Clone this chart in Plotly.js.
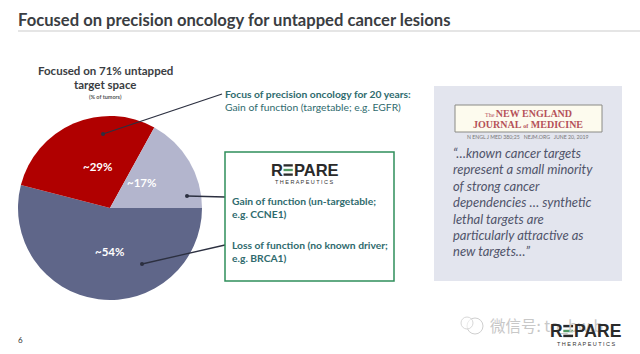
<!DOCTYPE html>
<html><head><meta charset="utf-8">
<script src="https://cdn.plot.ly/plotly-3.0.1.min.js"></script>
<style>html,body{margin:0;padding:0;background:#fff}#c{width:640px;height:354px}</style>
</head><body><div id="c"></div><script>
const categories=['Loss of function','Gain of function (un-targetable)','Gain of function (targetable)'];
const values=[54,29,17];
const valueLabels=['~54%','~29%','~17%'];
const sliceColors=['#5f6689','#b00000','#b3b5cd'];
const titleText='Focused on precision oncology for untapped cancer lesions';
const quoteLines=['“…known cancer targets','represent a small minority','of strong cancer','dependencies … synthetic','lethal targets are','particularly attractive as','new targets…”'];
const W=640,H=354;
const X=x=>x/W, Y=y=>1-y/H;
const LATO='Lato, Carlito, sans-serif';
const TEAL='#2f6b6e';
const ann=[];
function T(x,y,text,size,color,o={}){const a=o.a||'left';ann.push({xref:'paper',yref:'paper',x:X(a==='left'?x-2:x),y:Y(y),text,showarrow:false,xanchor:a,yanchor:'middle',align:a,font:{family:o.f||LATO,size,color}});}
const shapes=[];
function L(x0,y0,x1,y1,c,w,d){shapes.push({type:'line',xref:'paper',yref:'paper',x0:X(x0),y0:Y(y0),x1:X(x1),y1:Y(y1),line:{color:c,width:w,dash:d||'solid'}});}
function R(x0,y0,x1,y1,fill,lc,lw){shapes.push({type:'rect',xref:'paper',yref:'paper',x0:X(x0),y0:Y(y0),x1:X(x1),y1:Y(y1),fillcolor:fill,line:{color:lc||fill,width:lw||0}});}
function Dot(x,y,c){shapes.push({type:'circle',xref:'paper',yref:'paper',x0:X(x-2),y0:Y(y-2),x1:X(x+2),y1:Y(y+2),fillcolor:c,line:{width:0}});}
T(18,20,'<b>'+titleText+'</b>',16.6,'#3a3d42');
L(18,31,640,31,'#dcdcdc',1.5);
T(105,70,'<b>Focused on 71% untapped</b>',11.5,'#3a3d42',{a:'center'});
T(105,85,'<b>target space</b>',11.5,'#3a3d42',{a:'center'});
T(105,97,'<b>(% of tumors)</b>',5.5,'#555',{a:'center'});
T(225,94,'<b>Focus of precision oncology for 20 years:</b>',10.3,TEAL);
T(225,107,'Gain of function (targetable; e.g. EGFR)',10.3,TEAL);
L(103,134,222,94,'#2c3040',1.3);Dot(103,134,'#2c3040');
L(187,196,225,197,'#2c3040',1.3);Dot(187,196,'#2c3040');
L(142,264,225,245,'#2c3040',1.3);Dot(142,264,'#2c3040');
R(225,152,394,281,'rgba(0,0,0,0)','#2f8f5b',1.5);
function logo(x,y,s){
  T(x,y,'<b>R</b>',s,'#2a2a2a',{f:'Liberation Sans'});
  const bx=x+s*0.76,bw=s*0.56,h=s*0.70;
  [0,1,2].forEach(i=>{const yy=y-h/2+i*h*0.4;R(bx,yy,bx+bw,yy+h*0.2,i==1?'#4f9a62':'#2a2a2a');});
  T(bx+bw+s*0.08,y,'<b>PARE</b>',s,'#2a2a2a',{f:'Liberation Sans'});
}
logo(271,170,16.5);
T(304.5,182,'T H E R A P E U T I C S',5.5,'#333',{a:'center',f:'Liberation Sans'});
T(232,201,'<b>Gain of function (un-targetable;</b>',10.3,TEAL);
T(232,214,'<b>e.g. CCNE1)</b>',10.3,TEAL);
T(232,245,'<b>Loss of function (no known driver;</b>',10.3,TEAL);
T(232,258,'<b>e.g. BRCA1)</b>',10.3,TEAL);
R(434,86,622,281,'#e3e5ee');
R(455,105,602,132,'#fdfbee','#8a8a85',1);
T(528,113,'<span style="font-size:6px">The </span><b>NEW ENGLAND</b>',10,'#b5525a',{a:'center',f:'Liberation Serif'});
T(528,124,'<b>JOURNAL <span style="font-size:6px">of</span> MEDICINE</b>',10,'#b5525a',{a:'center',f:'Liberation Serif'});
T(528,137,'N ENGL J MED 380;25   NEJM.ORG   JUNE 20, 2019',5.2,'#777',{a:'center'});
quoteLines.forEach((t,i)=>T(453,153+i*16.4,'<i>'+t+'</i>',13,'#50546a'));
T(18,340,'6',8,'#333');
T(490,325,'微信号: to_bw.b',15.5,'#c8c8c8',{f:'Noto Sans CJK SC'});
logo(550,331,17.5);
T(586,344,'T H E R A P E U T I C S',5.5,'#333',{a:'center',f:'Liberation Sans'});
shapes.push({type:'circle',xref:'paper',yref:'paper',x0:X(467),y0:Y(318),x1:X(483),y1:Y(334),line:{color:'#cfcfcf',width:1},fillcolor:'rgba(0,0,0,0)'});
shapes.push({type:'circle',xref:'paper',yref:'paper',x0:X(461),y0:Y(317),x1:X(473),y1:Y(329),line:{color:'#d8d8d8',width:1},fillcolor:'rgba(255,255,255,0.6)'});
T(141,183,'<b>'+valueLabels[2]+'</b>',11.5,'#fff',{a:'center'});
T(97,166,'<b>'+valueLabels[1]+'</b>',11.5,'#fff',{a:'center'});
T(109,251,'<b>'+valueLabels[0]+'</b>',11.5,'#fff',{a:'center'});
Plotly.newPlot('c',[{type:'pie',labels:categories,values:values,textinfo:'none',sort:false,direction:'clockwise',rotation:90,
 marker:{colors:sliceColors,line:{width:0}},domain:{x:[X(18),X(202)],y:[Y(300),Y(116)]},hoverinfo:'label+value'}],
 {width:W,height:H,margin:{l:0,r:0,t:0,b:0},paper_bgcolor:'#fff',showlegend:false,annotations:ann,shapes:shapes},{staticPlot:true,displayModeBar:false});
</script></body></html>
